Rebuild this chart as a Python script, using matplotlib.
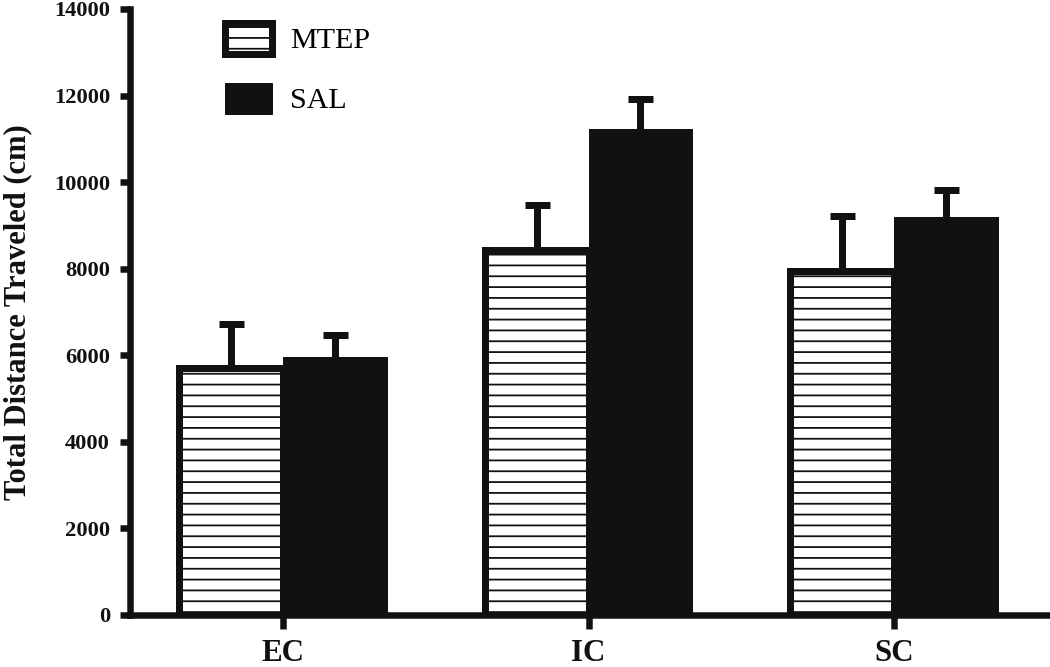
import matplotlib
matplotlib.use('Agg')
import matplotlib.pyplot as plt
import numpy as np

# ---- data ----
categories = ['EC', 'IC', 'SC']
mtep_mean = [5700, 8430, 7950]
mtep_sem = [1020, 1040, 1270]
sal_mean = [5960, 11230, 9190]
sal_sem = [510, 690, 630]
series_labels = ['MTEP', 'SAL']
yticks = [0, 2000, 4000, 6000, 8000, 10000, 12000, 14000]
ylabel = 'Total Distance Traveled (cm)'

DPI = 130


def px(p):
    return p * 72.0 / DPI


ink = '#111111'
plt.rcParams['font.family'] = ['Liberation Serif', 'DejaVu Serif']
plt.rcParams['hatch.linewidth'] = px(1.8)
plt.rcParams['hatch.color'] = ink

fig = plt.figure(figsize=(1050 / DPI, 667 / DPI), dpi=DPI)
ax = fig.add_axes([130 / 1050, 52 / 667, 917 / 1050, 606 / 667])

x = np.arange(len(categories))
w = 0.34


def upper_errorbar(xpos, means, sems):
    eb = ax.errorbar(xpos, means, yerr=[np.zeros(len(xpos)), sems], fmt='none',
                     ecolor=ink, elinewidth=px(7), capsize=px(12.5),
                     capthick=px(7), zorder=1)
    caps = eb[1]
    # hide the lower caps (they sit on the bar tops)
    for cap in caps:
        if np.allclose(np.asarray(cap.get_ydata(), dtype=float), np.asarray(means, dtype=float)):
            cap.set_visible(False)
    return eb


upper_errorbar(x - w / 2, mtep_mean, mtep_sem)
upper_errorbar(x + w / 2, sal_mean, sal_sem)

ax.bar(x - w / 2, mtep_mean, w, facecolor='white', edgecolor=ink, linewidth=px(7),
       hatch='--', label=series_labels[0], zorder=2)
ax.bar(x + w / 2, sal_mean, w, facecolor=ink, edgecolor=ink, linewidth=px(1),
       label=series_labels[1], zorder=2)

ax.set_xlim(-0.5, 2.5)
ax.set_ylim(0, 14000)
ax.set_xticks(x)
ax.set_xticklabels(categories, fontsize=px(31), fontweight='bold')
ax.set_yticks(yticks)
ax.set_yticklabels([str(v) for v in yticks], fontsize=px(22.5), fontweight='bold')

for s in ['top', 'right']:
    ax.spines[s].set_visible(False)
for s in ['left', 'bottom']:
    ax.spines[s].set_linewidth(px(6.5))
    ax.spines[s].set_color(ink)

ax.tick_params(axis='y', direction='out', length=px(10), width=px(6.5), pad=px(10), colors=ink)
ax.tick_params(axis='x', direction='out', length=px(14), width=px(6.5), pad=px(10), colors=ink)

ax.set_ylabel(ylabel, fontsize=px(30.5), fontweight='bold', labelpad=px(22), color=ink)

leg = ax.legend(loc='upper left', bbox_to_anchor=(0.104, 0.977), frameon=False,
                fontsize=px(30), handlelength=1.55, handleheight=1.2,
                handletextpad=0.6, labelspacing=0.95, borderpad=0, borderaxespad=0)

fig.savefig('out.png', dpi=DPI)
